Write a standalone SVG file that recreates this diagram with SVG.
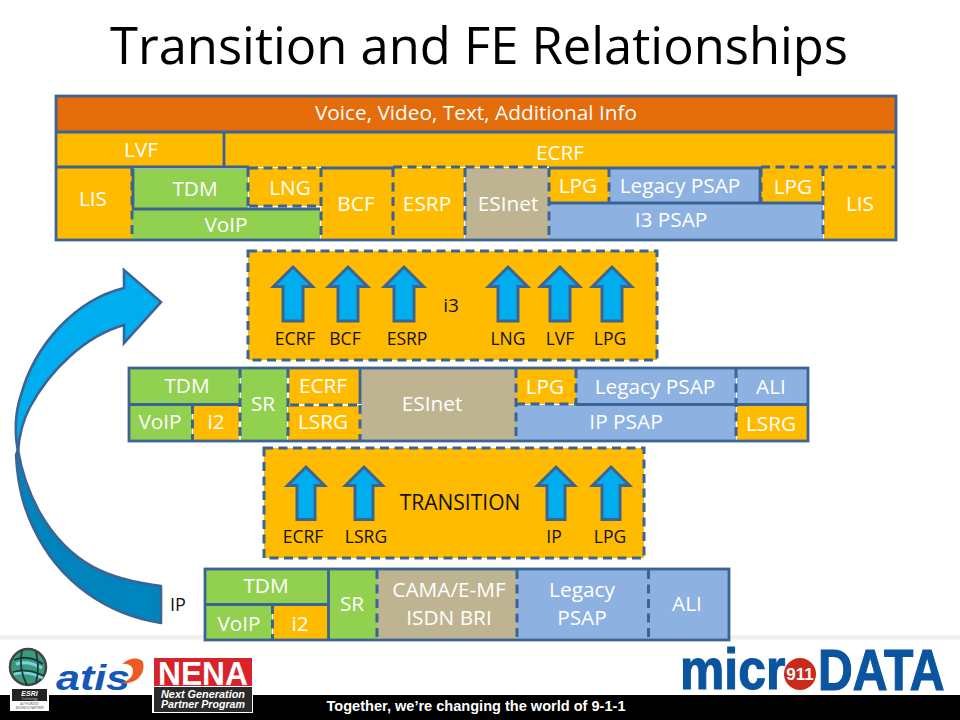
<svg xmlns="http://www.w3.org/2000/svg" width="960" height="720" viewBox="0 0 960 720">
<style>
text{font-family:"Open Sans","Noto Sans",sans-serif;text-anchor:middle}
.l{font-size:20.800px;fill:#fff}
.b{font-size:17.500px;fill:#111}
.m{font-size:19px;fill:#111}
.y{fill:#ffbb00}.g{fill:#92d050}.t{fill:#bfb492}.u{fill:#8db2e2}
.c{stroke:#3b6494;stroke-width:2.800;fill:none}
.d{stroke:#3b6494;stroke-width:3;fill:none;stroke-dasharray:9 5.500}
.a{fill:#00aeef;stroke:#3b6494;stroke-width:3;stroke-linejoin:miter}
.ff{font-family:"Liberation Sans",Arial,sans-serif;font-weight:700}
</style>
<defs>
<path id="up" d="M0 0L19.500 19.500H10V54H-10V19.500H-19.500Z"/>
<path id="up2" d="M0 0L18.500 18.500H9V52.500H-9V18.500H-18.500Z"/>
</defs>
<rect width="960" height="720" fill="#fff"/>
<rect id="footer-strip" x="0" y="635" width="960" height="4.500" fill="#f0f0f0"/>
<text id="title" x="479" y="64" style="font-size:52px" fill="#000" textLength="738" lengthAdjust="spacingAndGlyphs">Transition and FE Relationships</text>

<g id="stack-i3">
<g id="voice"><rect x="57" y="97" width="838" height="35" fill="#e46c0a"/><text class="l" x="476" y="120">Voice, Video, Text, Additional Info</text></g>
<g id="lvf"><rect x="57" y="132" width="167" height="35" class="y"/><text class="l" x="141" y="157">LVF</text></g>
<g id="ecrf-top"><rect x="224" y="132" width="671" height="35" class="y"/><text class="l" x="560" y="160">ECRF</text></g>
<g id="lis-left"><rect x="57" y="167" width="75" height="72" class="y"/><text class="l" x="93" y="206">LIS</text></g>
<g id="tdm-top"><rect x="133" y="169" width="115" height="39" class="g"/><text class="l" x="195" y="196">TDM</text></g>
<rect x="264" y="206" width="54" height="2" fill="#fff"/>
<g id="lng-top"><rect x="249" y="168" width="72" height="38" class="y"/><text class="l" x="290" y="195">LNG</text></g>
<g id="voip-top"><rect x="132" y="210" width="188" height="29" class="g"/><text class="l" x="226" y="232">VoIP</text></g>
<g id="bcf-top"><rect x="321" y="168" width="72" height="71" class="y"/><text class="l" x="356" y="211">BCF</text></g>
<g id="esrp-top"><rect x="393" y="168" width="71" height="71" class="y"/><text class="l" x="427" y="211">ESRP</text></g>
<g id="esinet-top"><rect x="465" y="168" width="84" height="71" class="t"/><text class="l" x="508" y="211">ESInet</text></g>
<g id="lpg-top1"><rect x="549" y="168" width="60" height="34" class="y"/><text class="l" x="578" y="193">LPG</text></g>
<g id="legacy-top"><rect x="609" y="169" width="151" height="33" class="u"/><text class="l" x="680" y="193">Legacy PSAP</text></g>
<g id="lpg-top2"><rect x="761" y="167" width="62" height="36" class="y"/><text class="l" x="793" y="194">LPG</text></g>
<g id="i3psap"><rect x="549" y="204" width="274" height="35" class="u"/><text class="l" x="671" y="227">I3 PSAP</text></g>
<g id="lis-right"><rect x="824" y="167" width="71" height="72" class="y"/><text class="l" x="860" y="211">LIS</text></g>
<path class="c" d="M224 132V167M57 132H895M57 167H249M321 168H393M549 168H608M608 168H760V203M133 169V208M132 209H320M549 203H823"/>
<path class="d" d="M249 168H321M393 167H465H549M761 167H895M132 167V239M248 168V208M321 168V239M249 206H321M393 168V239M465 168V239M549 168V239M609 168V203M761 168V203M823 167V239"/>
<rect x="56" y="96" width="840" height="144" class="c"/>
</g>

<g id="box-i3">
<rect x="248" y="251" width="409" height="109" class="y"/>
<rect x="248" y="251" width="409" height="109" class="d"/>
<g class="a"><use href="#up" x="293" y="267"/><use href="#up" x="348" y="267"/><use href="#up" x="404" y="267"/><use href="#up" x="508" y="267"/><use href="#up" x="560" y="267"/><use href="#up" x="612" y="267"/></g>
<text class="b" x="295" y="345">ECRF</text><text class="b" x="345" y="345">BCF</text><text class="b" x="407" y="345">ESRP</text><text class="b" x="508" y="345">LNG</text><text class="b" x="560" y="345">LVF</text><text class="b" x="610" y="345">LPG</text>
<text class="m" x="451" y="312">i3</text>
</g>

<g id="stack-i2">
<g id="tdm-i2"><rect x="130" y="369" width="110" height="35" class="g"/><text class="l" x="187" y="393">TDM</text></g>
<g id="voip-i2"><rect x="130" y="405" width="62" height="35" class="g"/><text class="l" x="160" y="429">VoIP</text></g>
<g id="i2-i2"><rect x="193" y="405" width="46" height="35" class="y"/><text class="l" x="216" y="429">i2</text></g>
<g id="sr-i2"><rect x="241" y="369" width="46" height="71" class="g"/><text class="l" x="263" y="411">SR</text></g>
<g id="ecrf-i2"><rect x="289" y="369" width="71" height="35" class="y"/><text class="l" x="323" y="393">ECRF</text></g>
<g id="lsrg-i2"><rect x="288" y="406" width="73" height="34" class="y"/><text class="l" x="323" y="429">LSRG</text></g>
<g id="esinet-i2"><rect x="361" y="369" width="155" height="71" class="t"/><text class="l" x="432" y="411">ESInet</text></g>
<g id="lpg-i2"><rect x="516" y="369" width="60" height="35" class="y"/><text class="l" x="545" y="394">LPG</text></g>
<g id="legacy-i2"><rect x="576" y="369" width="160" height="35" class="u"/><text class="l" x="655" y="394">Legacy PSAP</text></g>
<g id="ali-i2"><rect x="737" y="369" width="70" height="35" class="u"/><text class="l" x="771" y="394">ALI</text></g>
<g id="ippsap-i2"><rect x="516" y="405" width="220" height="35" class="u"/><text class="l" x="626" y="429">IP PSAP</text></g>
<g id="lsrg2-i2"><rect x="737" y="405" width="70" height="35" class="y"/><text class="l" x="771" y="431">LSRG</text></g>
<path class="c" d="M130 404.500H240M360 369V404M576 404.500H807"/>
<path class="d" d="M240 369V440M192.500 405V440M288 369V440M290 405H360M360 405V440M516 369V440M516 404H576M576 369V404M736 369V440"/>
<rect x="129" y="368" width="679" height="73" class="c"/>
</g>

<g id="box-transition">
<rect x="264" y="448" width="380" height="110" class="y"/>
<rect x="264" y="448" width="380" height="110" class="d"/>
<g class="a"><use href="#up2" x="306" y="467"/><use href="#up2" x="364" y="467"/><use href="#up2" x="556" y="467"/><use href="#up2" x="611" y="467"/></g>
<text class="b" x="303" y="543">ECRF</text><text class="b" x="366" y="543">LSRG</text><text class="b" x="554" y="543">IP</text><text class="b" x="610" y="543">LPG</text>
<text class="m" x="460" y="510" style="font-size:21px">TRANSITION</text>
</g>

<g id="stack-ip">
<g id="tdm-ip"><rect x="206" y="570" width="122" height="34" class="g"/><text class="l" x="266" y="593">TDM</text></g>
<g id="voip-ip"><rect x="206" y="605" width="66" height="34" class="g"/><text class="l" x="239" y="631">VoIP</text></g>
<g id="i2-ip"><rect x="273" y="605" width="55" height="34" class="y"/><text class="l" x="300" y="631">i2</text></g>
<g id="sr-ip"><rect x="329" y="570" width="48" height="69" class="g"/><text class="l" x="352" y="611">SR</text></g>
<g id="cama-ip"><rect x="377" y="570" width="140" height="69" class="t"/><text class="l" x="449" y="597">CAMA/E-MF</text><text class="l" x="449" y="625">ISDN BRI</text></g>
<g id="legacy-ip"><rect x="517" y="570" width="132" height="69" class="u"/><text class="l" x="582" y="597">Legacy</text><text class="l" x="582" y="625">PSAP</text></g>
<g id="ali-ip"><rect x="649" y="570" width="79" height="69" class="u"/><text class="l" x="687" y="611">ALI</text></g>
<path class="c" d="M206 604.500H328M328.500 570V639"/>
<path class="d" d="M272.500 605V639M377 570V639M517 570V639M648.500 570V639"/>
<rect x="205" y="569" width="524" height="71" class="c"/>
</g>

<g id="connectors">
<path d="M161 586C110 580 70 565 40 513C30 495 22 475 18 450L16 455C18 490 25 510 33 527C60 585 110 615 161 623Z" fill="#0084bd" stroke="#3b6494" stroke-width="2.600" stroke-linejoin="round"/>
<path d="M124 325C85 336 50 370 30 407C23 420 19 435 18 452C14 430 16 410 21 395C35 345 75 300 124 288V270L161 302L124 343Z" fill="#00aeef" stroke="#3b6494" stroke-width="2.600" stroke-linejoin="miter"/>
<text class="m" x="178" y="611" style="font-size:18px">IP</text>
</g>

<g id="footer">
<rect x="0" y="695" width="960" height="25" fill="#000"/>
<text x="476" y="711" style="font-size:14px" fill="#fff" class="ff" textLength="299" lengthAdjust="spacingAndGlyphs">Together, we’re changing the world of 9-1-1</text>
</g>

<g id="logo-esri">
<circle cx="28" cy="667" r="18" fill="#3b9a7c" stroke="#444" stroke-width="2.500"/>
<path d="M16 664Q28 660 42 668M14 674Q28 670 43 678" fill="none" stroke="#7fd0e0" stroke-width="3"/>
<path d="M14 660Q28 654 43 664M13 672Q28 668 44 676M22 650Q18 668 27 685M36 652Q40 668 36 682" fill="none" stroke="#173b3a" stroke-width="1.800"/>
<rect x="10" y="688" width="39" height="23" fill="#fff"/>
<rect x="12" y="689" width="35" height="12" fill="#222"/>
<text x="29.500" y="696" style="font-size:7px;font-style:italic" fill="#fff" class="ff">ESRI</text>
<text x="29.500" y="700" style="font-size:3px" fill="#ddd">Technology</text>
<text x="29.500" y="705" style="font-size:3px" fill="#444">AUTHORIZED</text>
<text x="29.500" y="709" style="font-size:3px" fill="#444">BUSINESS PARTNER</text>
</g>
<g id="logo-atis">
<text x="93" y="690" style="font-size:35px;font-style:italic" fill="#1358b8" class="ff" textLength="74" lengthAdjust="spacingAndGlyphs">atis</text>
<path d="M121 683C135 685 146 675 143 662C140 657 130 657 122 664C128 663 133 666 133 671C133 677 128 681 121 683Z" fill="#ee5a24"/>
</g>
<g id="logo-nena">
<rect x="152" y="657" width="101" height="56" fill="#fff"/>
<rect x="154" y="658" width="98" height="28" fill="#d8232a"/>
<rect x="154" y="687" width="98" height="25" fill="#2a2a2a"/>
<text x="203" y="685" style="font-size:34px" fill="#fff" class="ff" textLength="90" lengthAdjust="spacingAndGlyphs">NENA</text>
<text x="203" y="698" style="font-size:10px;font-style:italic" fill="#fff" class="ff" textLength="84" lengthAdjust="spacingAndGlyphs">Next Generation</text>
<text x="203" y="708" style="font-size:10px;font-style:italic" fill="#fff" class="ff" textLength="84" lengthAdjust="spacingAndGlyphs">Partner Program</text>
</g>
<g id="logo-microdata">
<text transform="translate(680 689) scale(.86 1)" style="font-size:58px;text-anchor:start" fill="#0b55a0" stroke="#0b55a0" stroke-width="1.200" class="ff">micr</text>
<circle cx="800" cy="674" r="16" fill="#c92a1c"/>
<text x="800" y="680" style="font-size:17px" fill="#fff" class="ff">911</text>
<text transform="translate(818 690) scale(.83 1)" style="font-size:58px;text-anchor:start" fill="#0b55a0" stroke="#0b55a0" stroke-width="1.200" class="ff">DATA</text>
</g>
</svg>
